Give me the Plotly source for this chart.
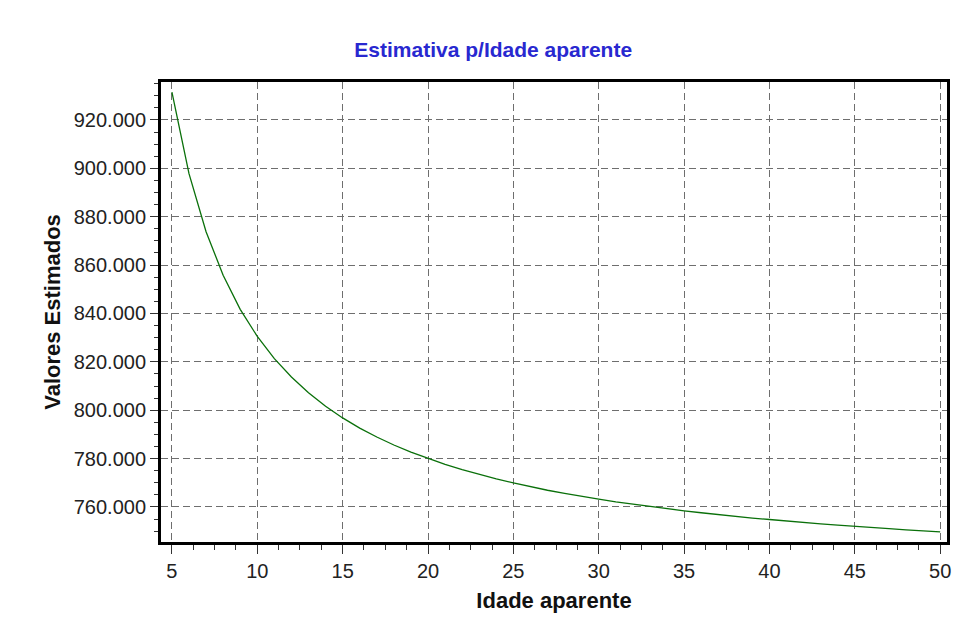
import plotly.graph_objects as go

idade = list(range(5, 51))
valores = [
    931500, 897800, 873800, 855800, 841700, 830500, 821300, 813700, 807200, 801600,
    796800, 792600, 788900, 785600, 782700, 780000, 777600, 775400, 773400, 771600,
    769900, 768300, 766900, 765600, 764300, 763200, 762100, 761100, 760100, 759200,
    758400, 757600, 756800, 756100, 755400, 754800, 754100, 753500, 753000, 752500,
    751900, 751500, 751000, 750500, 750100, 749700,
]
titulo = "Estimativa p/Idade aparente"
titulo_x = "Idade aparente"
titulo_y = "Valores Estimados"

fig = go.Figure()
fig.add_trace(go.Scatter(
    x=idade, y=valores, mode="lines",
    line=dict(color="#0a700a", width=1.3),
    showlegend=False, hoverinfo="skip",
))

font_family = "Liberation Sans, Arial, sans-serif"
grid = dict(showgrid=True, gridcolor="#6e6e6e", gridwidth=1, griddash="7px,4px")
axline = dict(showline=True, linecolor="black", linewidth=3, mirror=True, zeroline=False)

fig.update_layout(
    width=969, height=641,
    margin=dict(l=161, r=22, t=82, b=99),
    paper_bgcolor="white", plot_bgcolor="white",
    separators=",.",
    font=dict(family=font_family, color="#222222"),
    title=dict(
        text=f"<b>{titulo}</b>", font=dict(size=21, color="#2828d0", family=font_family),
        xref="container", yref="container", x=0.509, y=1 - 50 / 641,
        xanchor="center", yanchor="middle",
    ),
    xaxis=dict(
        range=[4.36, 50.4], tick0=0, dtick=5, ticks="outside", ticklen=9,
        tickwidth=1, tickcolor="#333",
        tickfont=dict(size=20, color="#222"),
        minor=dict(dtick=1.25, tick0=0, ticks="outside", ticklen=5, tickcolor="#333", showgrid=False),
        title=dict(text=f"<b>{titulo_x}</b>", font=dict(size=22, color="#111"), standoff=12),
        **grid, **axline,
    ),
    yaxis=dict(
        range=[745500, 935700], tick0=0, dtick=20000, tickformat=",d",
        ticks="outside", ticklen=8, tickwidth=1, tickcolor="#333",
        tickfont=dict(size=20, color="#222"),
        minor=dict(dtick=5000, tick0=0, ticks="outside", ticklen=4, tickcolor="#333", showgrid=False),
        title=dict(text=f"<b>{titulo_y}</b>", font=dict(size=22, color="#111"), standoff=8),
        **grid, **axline,
    ),
)

fig.write_html("out.html")
